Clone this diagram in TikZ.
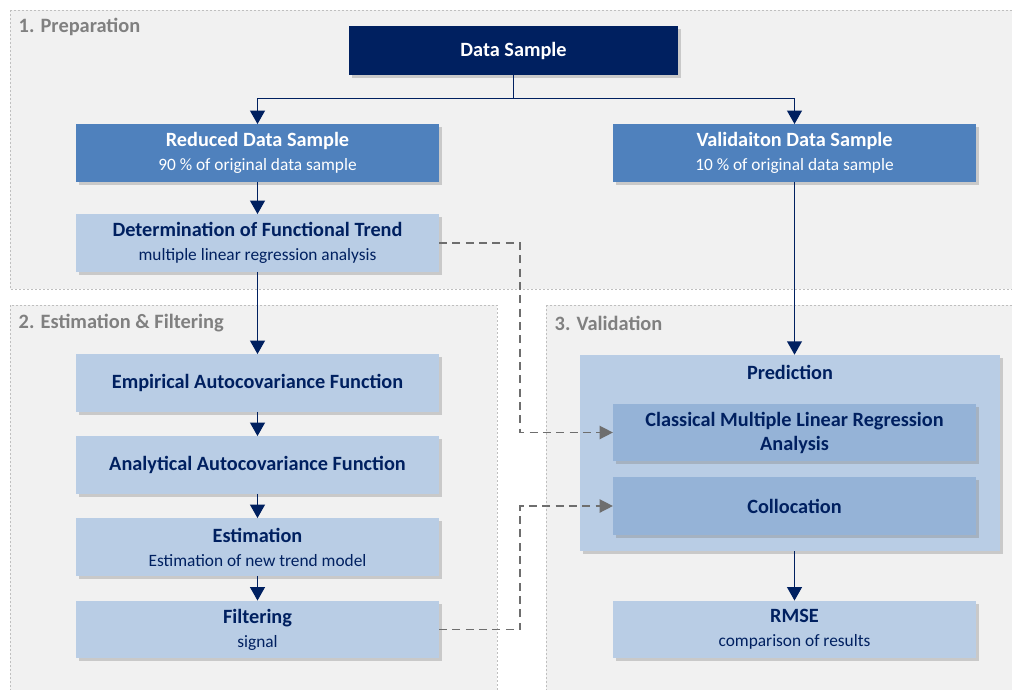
\documentclass[tikz,border=0pt]{standalone}
\usepackage{fontspec}
\setmainfont{Carlito}
\usepackage{tikz}
\usetikzlibrary{arrows.meta,shadows}
\definecolor{navy}{HTML}{002060}
\definecolor{midblue}{HTML}{4F81BD}
\definecolor{lightblue}{HTML}{B9CDE5}
\definecolor{steelblue}{HTML}{95B3D7}
\definecolor{panelfill}{HTML}{F1F1F1}
\definecolor{panelline}{HTML}{BFBFBF}
\definecolor{phasegray}{HTML}{808080}
\definecolor{linkgray}{HTML}{6E6E6E}
\newcommand{\ttl}[1]{{\bfseries\fontsize{15.2}{18}\selectfont #1}}

\begin{document}
\begin{tikzpicture}[x=0.75pt,y=-0.75pt,
	panel/.style={draw=panelline,dash pattern=on 1.5pt off 1.5pt,fill=panelfill},
	phase/.style={anchor=west,text=phasegray,font=\bfseries\fontsize{15.3}{18}\selectfont},
	box/.style={rectangle,minimum width=272pt,minimum height=43pt,align=center,inner sep=2pt,
		font=\fontsize{13}{18}\selectfont,
		drop shadow={shadow xshift=2.2pt,shadow yshift=-2.2pt,opacity=0.35}},
	topbox/.style={box,fill=navy,text=white,minimum width=247pt,minimum height=37pt},
	samplebox/.style={box,fill=midblue,text=white},
	stepbox/.style={box,fill=lightblue,text=navy},
	subbox/.style={box,fill=steelblue,text=navy},
	flow/.style={draw=navy,line width=1.2pt,-{Triangle[width=11pt,length=10pt]}},
	link/.style={draw=linkgray,line width=1.1pt,dash pattern=on 6pt off 4pt,-{Triangle[width=10pt,length=10pt]}}]
	\useasboundingbox (0,0) rectangle (1012,689);
	\draw[panel] (10,10) rectangle (1030,289);
	\draw[panel] (10,305) rectangle (497,710);
	\draw[panel] (546,305) rectangle (1030,710);
	\node[phase] (prep) at (14,27) {1. Preparation};
	\node[phase] (estfilt) at (14,323) {2. Estimation \& Filtering};
	\node[phase] (valid) at (550,323) {3. Validation};
	\node[topbox] (data) at (513.5,50.5) {\ttl{Data Sample}};
	\node[samplebox] (reduced) at (257.5,153) {\ttl{Reduced Data Sample}\\90 \% of original data sample};
	\node[samplebox] (validation) at (794.5,153) {\ttl{Validaiton Data Sample}\\10 \% of original data sample};
	\node[stepbox] (trend) at (257.5,243) {\ttl{Determination of Functional Trend}\\multiple linear regression analysis};
	\node[stepbox] (empirical) at (257.5,383) {\ttl{Empirical Autocovariance Function}};
	\node[stepbox] (analytical) at (257.5,465) {\ttl{Analytical Autocovariance Function}};
	\node[stepbox] (estim) at (257.5,547) {\ttl{Estimation}\\Estimation of new trend model};
	\node[stepbox] (filter) at (257.5,629.5) {\ttl{Filtering}\\signal};
	\node[stepbox,minimum width=315pt,minimum height=147pt,
		label={[anchor=north,yshift=-4pt,text=navy]north:\ttl{Prediction}}] (pred) at (790,453) {};
	\node[subbox] (classic) at (794.5,432.5) {\ttl{Classical Multiple Linear Regression}\\\ttl{Analysis}};
	\node[subbox] (colloc) at (794.5,506) {\ttl{Collocation}};
	\node[stepbox] (rmse) at (794.5,629.5) {\ttl{RMSE}\\comparison of results};
	\draw[flow] (data.south) -- ++(0,23) -| (reduced.north);
	\draw[flow] (data.south) -- ++(0,23) -| (validation.north);
	\draw[flow] (reduced) -- (trend);
	\draw[flow] (trend) -- (empirical);
	\draw[flow] (empirical) -- (analytical);
	\draw[flow] (analytical) -- (estim);
	\draw[flow] (estim) -- (filter);
	\draw[flow] (validation.south) -- (validation.south |- pred.north);
	\draw[flow] (rmse.north |- pred.south) -- (rmse.north);
	\draw[link] (trend.east) -- ++(81,0) |- (classic.west);
	\draw[link] (filter.east) -- ++(81,0) |- (colloc.west);
\end{tikzpicture}
\end{document}
